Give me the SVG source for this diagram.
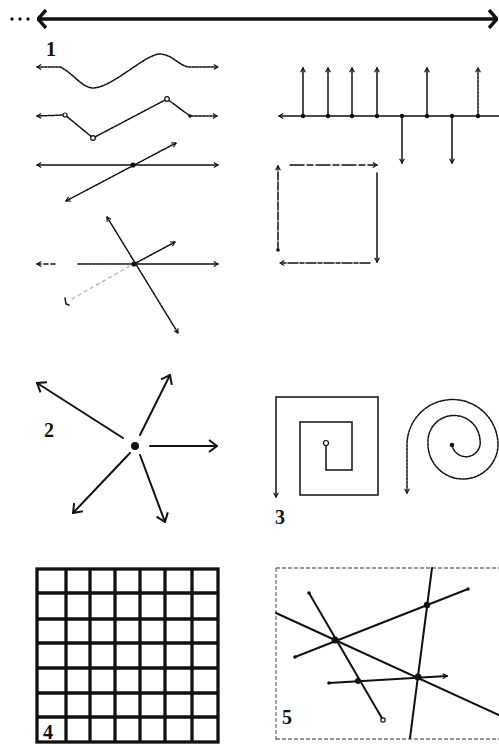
<svg xmlns="http://www.w3.org/2000/svg" width="499" height="744" viewBox="0 0 499 744">
<style>
.ln{fill:none;stroke:#111;stroke-width:1.5;stroke-linecap:round}
.dt{stroke-dasharray:2.5 1.2}
.md{fill:none;stroke:#111;stroke-width:2;stroke-linecap:round}
.th{fill:none;stroke:#111;stroke-width:3.3}
.faint{fill:none;stroke:#bbb;stroke-width:1.5;stroke-dasharray:4 3}
.frame{fill:none;stroke:#777;stroke-width:1.3;stroke-dasharray:4 2}
.dot{fill:#111}
.oc{fill:#fff;stroke:#111;stroke-width:1.2}
.num{font-family:"Liberation Serif","DejaVu Serif",serif;font-weight:bold;font-size:20px;fill:#111}
</style>
<defs>
<marker id="ms" viewBox="0 0 10 10" refX="9" refY="5" markerWidth="6" markerHeight="6" markerUnits="userSpaceOnUse" orient="auto-start-reverse"><path d="M2,1 L9,5 L2,9" fill="none" stroke="#111" stroke-width="2"/></marker>
<marker id="mb" viewBox="0 0 10 14" refX="9" refY="7" markerWidth="10" markerHeight="14" markerUnits="userSpaceOnUse" orient="auto-start-reverse"><path d="M1,1 L9,7 L1,13" fill="none" stroke="#111" stroke-width="2"/></marker>
<marker id="mt" viewBox="0 0 10 20" refX="9" refY="10" markerWidth="10" markerHeight="20" markerUnits="userSpaceOnUse" orient="auto-start-reverse"><path d="M1,1 L9,10 L1,19" fill="none" stroke="#111" stroke-width="3.4"/></marker>
</defs>

<g id="top-line">
<circle class="dot" cx="12" cy="19" r="1.7"/><circle class="dot" cx="20" cy="19" r="1.7"/><circle class="dot" cx="28" cy="19" r="1.7"/>
<line class="th" x1="38" y1="19" x2="497" y2="19" marker-start="url(#mt)" marker-end="url(#mt)"/>
</g>

<g id="fig1">
<text class="num" x="46" y="56">1</text>
<path class="ln dt" d="M37,67 L60,67 C72,72 82,88 93,88 C112,88 145,54 160,54 C172,54 180,67 190,67 L218,67" marker-start="url(#ms)" marker-end="url(#ms)"/>
<polyline class="ln dt" points="37,116 65,115 93,138 167,99 190,116 217,116" marker-start="url(#ms)" marker-end="url(#ms)"/>
<circle class="oc" cx="65" cy="115" r="2"/><circle class="oc" cx="93" cy="138" r="2.3"/><circle class="oc" cx="167" cy="99" r="2.3"/><circle class="dot" cx="190" cy="116" r="1.8"/>
<line class="ln" x1="37" y1="165" x2="218" y2="165" marker-start="url(#ms)" marker-end="url(#ms)"/>
<line class="ln dt" x1="66" y1="201" x2="176" y2="143" marker-start="url(#ms)" marker-end="url(#ms)"/>
<circle class="dot" cx="133" cy="165" r="2.6"/>
<line class="ln" x1="37" y1="264" x2="55" y2="264" stroke-dasharray="4 3" marker-start="url(#ms)"/>
<line class="ln dt" x1="78" y1="264" x2="134" y2="264" stroke="#666"/>
<line class="ln" x1="134" y1="264" x2="218" y2="264" marker-end="url(#ms)"/>
<line class="ln dt" x1="107" y1="217" x2="178" y2="333" marker-start="url(#ms)" marker-end="url(#ms)"/>
<line class="ln dt" x1="134" y1="264" x2="175" y2="242" marker-end="url(#ms)"/>
<line class="faint" x1="130" y1="266" x2="70" y2="300"/>
<path class="ln" d="M65,298 L66,304 L69,305"/>
<circle class="dot" cx="134" cy="264" r="2.6"/>
</g>

<g id="fig-stems">
<line class="ln" x1="279" y1="116" x2="499" y2="116" marker-start="url(#ms)"/>
<g marker-end="url(#ms)">
<line class="ln" x1="303" y1="116" x2="303" y2="68"/>
<line class="ln" x1="328" y1="116" x2="328" y2="68"/>
<line class="ln" x1="352" y1="116" x2="352" y2="68"/>
<line class="ln" x1="377" y1="116" x2="377" y2="68"/>
<line class="ln" x1="427" y1="116" x2="427" y2="68"/>
<line class="ln dt" x1="478" y1="116" x2="478" y2="68" stroke="#777"/>
<line class="ln" x1="402" y1="116" x2="402" y2="163"/>
<line class="ln" x1="452" y1="116" x2="452" y2="163"/>
</g>
<circle class="dot" cx="303" cy="116" r="2.2"/><circle class="dot" cx="328" cy="116" r="2.2"/><circle class="dot" cx="352" cy="116" r="2.2"/><circle class="dot" cx="377" cy="116" r="2.2"/><circle class="dot" cx="402" cy="116" r="2.2"/><circle class="dot" cx="427" cy="116" r="2.2"/><circle class="dot" cx="452" cy="116" r="2.2"/><circle class="dot" cx="478" cy="116" r="2.2"/>
</g>

<g id="fig-square">
<line class="ln" x1="290" y1="165" x2="377" y2="165" stroke-dasharray="14 3 6 3" marker-end="url(#ms)"/>
<line class="ln" x1="377" y1="173" x2="377" y2="262" marker-end="url(#ms)"/>
<line class="ln" x1="370" y1="263" x2="280" y2="263" stroke-dasharray="10 2 4 2" marker-end="url(#ms)"/>
<line class="ln" x1="278" y1="250" x2="278" y2="166" stroke-dasharray="8 2" marker-end="url(#ms)"/>
<circle class="dot" cx="278" cy="250" r="1.8"/>
</g>

<g id="fig2">
<text class="num" x="44" y="437">2</text>
<circle class="dot" cx="135" cy="446" r="4"/>
<g marker-end="url(#mb)">
<line class="md" x1="123" y1="438" x2="37" y2="383"/>
<line class="md" x1="140" y1="435" x2="170" y2="375"/>
<line class="md" x1="150" y1="446" x2="217" y2="446"/>
<line class="md" x1="130" y1="453" x2="73" y2="513"/>
<line class="md" x1="140" y1="455" x2="165" y2="522"/>
</g>
</g>

<g id="fig3">
<text class="num" x="275" y="524">3</text>
<path class="ln" d="M276,497 L276,397 L378,397 L378,495 L300,495 L300,422 L352,422 L352,470 L326,470 L326,445" marker-start="url(#ms)"/>
<circle class="oc" cx="326" cy="443" r="2.5"/>
<path class="ln dt" d="M452,445 A14,14 0 0 0 480,440 A26,26 0 0 0 428,443 A35,35 0 0 0 498,445 A45.5,45.5 0 0 0 407,445 L407,493" marker-end="url(#ms)"/>
<circle class="dot" cx="452" cy="445" r="2.3"/>
</g>

<g id="fig4">
<g class="th">
<rect x="37" y="569" width="181" height="173"/>
<line x1="66" y1="569" x2="66" y2="742"/><line x1="90" y1="569" x2="90" y2="742"/><line x1="115" y1="569" x2="115" y2="742"/><line x1="140" y1="569" x2="140" y2="742"/><line x1="165" y1="569" x2="165" y2="742"/><line x1="192" y1="569" x2="192" y2="742"/>
<line x1="37" y1="593" x2="218" y2="593"/><line x1="37" y1="619" x2="218" y2="619"/><line x1="37" y1="643" x2="218" y2="643"/><line x1="37" y1="668" x2="218" y2="668"/><line x1="37" y1="693" x2="218" y2="693"/><line x1="37" y1="717" x2="218" y2="717"/>
</g>
<text class="num" x="43" y="739">4</text>
</g>

<g id="fig5">
<path class="frame" d="M276,568 L499,568 M276,568 L276,740 M276,739 L499,739"/>
<text class="num" x="282" y="724">5</text>
<line class="md" x1="276" y1="613" x2="499" y2="715" stroke-width="1.8"/>
<line class="md" x1="295" y1="657" x2="468" y2="589" stroke-width="1.8"/>
<line class="md" x1="432" y1="568" x2="410" y2="738" stroke-width="1.8"/>
<line class="md" x1="309" y1="593" x2="383" y2="720" stroke-width="1.8"/>
<line class="md" x1="329" y1="683" x2="447" y2="676" stroke-width="1.8" marker-end="url(#ms)"/>
<circle class="dot" cx="295" cy="657" r="1.8"/><circle class="dot" cx="468" cy="589" r="1.8"/><circle class="dot" cx="309" cy="593" r="1.8"/><circle class="dot" cx="329" cy="683" r="1.8"/>
<circle class="oc" cx="383" cy="720" r="2.2"/>
<circle class="dot" cx="335" cy="640" r="3.5"/><circle class="dot" cx="427" cy="605" r="3.2"/><circle class="dot" cx="418" cy="677" r="3.5"/><circle class="dot" cx="358" cy="681" r="3"/>
</g>
</svg>
